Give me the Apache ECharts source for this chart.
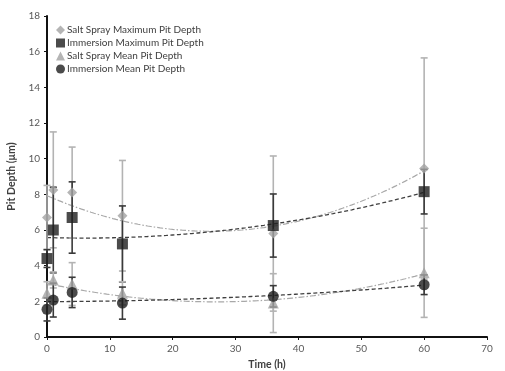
<!DOCTYPE html>
<html>
<head>
<meta charset="utf-8">
<script src="https://cdn.jsdelivr.net/npm/echarts@6/dist/echarts.min.js"></script>
<style>html,body{margin:0;padding:0;background:#fff}#c{width:505px;height:371px}</style>
</head>
<body>
<div id="c"></div>
<script>
var times = [0, 1, 4, 12, 36, 60];
var ssMax = [6.7, 8.25, 8.1, 6.8, 5.8, 9.45];
var ssMaxErr = [1.8, 3.25, 2.55, 3.1, 4.35, 6.2];
var imMax = [4.4, 6.0, 6.7, 5.22, 6.25, 8.15];
var imMaxErr = [0.5, 2.4, 2.0, 2.13, 1.77, 1.25];
var ssMean = [2.45, 3.2, 2.97, 2.45, 1.9, 3.6];
var ssMeanErr = [0.65, 0.45, 1.2, 0.65, 1.65, 2.5];
var imMean = [1.55, 2.07, 2.5, 1.9, 2.28, 2.93];
var imMeanErr = [0.65, 0.95, 0.85, 0.9, 0.6, 0.55];
var seriesNames = ['Salt Spray Maximum Pit Depth', 'Immersion Maximum Pit Depth', 'Salt Spray Mean Pit Depth', 'Immersion Mean Pit Depth'];
var yTicks = [0, 2, 4, 6, 8, 10, 12, 14, 16, 18];
var xTicks = [0, 10, 20, 30, 40, 50, 60, 70];

function polyFit2(xs, ys) {
  var n = xs.length, s = [0,0,0,0,0], t = [0,0,0];
  for (var i = 0; i < n; i++) {
    var x = xs[i], y = ys[i];
    for (var k = 0; k < 5; k++) s[k] += Math.pow(x, k);
    for (var k2 = 0; k2 < 3; k2++) t[k2] += Math.pow(x, k2) * y;
  }
  var A = [[s[0],s[1],s[2],t[0]],[s[1],s[2],s[3],t[1]],[s[2],s[3],s[4],t[2]]];
  for (var c = 0; c < 3; c++) {
    for (var r = c + 1; r < 3; r++) {
      var f = A[r][c] / A[c][c];
      for (var j = c; j < 4; j++) A[r][j] -= f * A[c][j];
    }
  }
  var b = [0,0,0];
  for (var r2 = 2; r2 >= 0; r2--) {
    var v = A[r2][3];
    for (var j2 = r2 + 1; j2 < 3; j2++) v -= A[r2][j2] * b[j2];
    b[r2] = v / A[r2][r2];
  }
  return b;
}
function trend(ys) {
  var b = polyFit2(times, ys), out = [];
  var x0 = times[0], x1 = times[times.length - 1];
  for (var i = 0; i <= 120; i++) {
    var x = x0 + (x1 - x0) * i / 120;
    out.push([x, b[0] + b[1] * x + b[2] * x * x]);
  }
  return out;
}
function errData(vals, errs) {
  return times.map(function (t, i) { return [t, vals[i] - errs[i], vals[i] + errs[i]]; });
}
function pts(vals) { return times.map(function (t, i) { return [t, vals[i]]; }); }

function errSeries(vals, errs, color, z) {
  return {
    type: 'custom', silent: true, z: z,
    data: errData(vals, errs),
    encode: { x: 0, y: [1, 2] },
    renderItem: function (params, api) {
      var x = api.value(0);
      var lo = api.coord([x, api.value(1)]);
      var hi = api.coord([x, api.value(2)]);
      var w = 3.5;
      var st = { stroke: color, lineWidth: 1.6 };
      return {
        type: 'group',
        children: [
          { type: 'line', shape: { x1: lo[0], y1: lo[1], x2: hi[0], y2: hi[1] }, style: st },
          { type: 'line', shape: { x1: lo[0] - w, y1: lo[1], x2: lo[0] + w, y2: lo[1] }, style: st },
          { type: 'line', shape: { x1: hi[0] - w, y1: hi[1], x2: hi[0] + w, y2: hi[1] }, style: st }
        ]
      };
    }
  };
}

var grayM = '#a3a3a3', darkM = '#1e1e1e';
var grayE = '#b3b3b3', darkE = '#3a3a3a';
var chart = echarts.init(document.getElementById('c'), null, { renderer: 'canvas' });
var font = 'Lato, "Open Sans", sans-serif';
chart.setOption({
  animation: false,
  textStyle: { fontFamily: font },
  grid: { left: 47, right: 18, top: 16, bottom: 34, containLabel: false, outerBoundsMode: 'none' },
  legend: {
    data: [
      { name: seriesNames[0], icon: 'diamond' },
      { name: seriesNames[1], icon: 'rect' },
      { name: seriesNames[2], icon: 'triangle' },
      { name: seriesNames[3], icon: 'circle' }
    ],
    orient: 'vertical', left: 51, top: 20, itemGap: 3, itemWidth: 9, itemHeight: 9,
    textStyle: { fontSize: 10, color: '#404040', fontFamily: font, padding: [0, 0, 0, -3] },
    selectedMode: false
  },
  xAxis: {
    type: 'value', min: xTicks[0], max: xTicks[xTicks.length - 1], interval: 10,
    name: 'Time (h)', nameLocation: 'middle', nameGap: 20,
    nameTextStyle: { fontSize: 10.5, fontWeight: 'bold', color: '#404040', fontFamily: font },
    axisLine: { lineStyle: { color: '#111', width: 2 } },
    axisTick: { length: 3, lineStyle: { color: '#111', width: 1 } },
    axisLabel: { fontSize: 10, color: '#595959', margin: 7, fontFamily: font },
    splitLine: { show: false }
  },
  yAxis: {
    type: 'value', min: yTicks[0], max: yTicks[yTicks.length - 1], interval: 2,
    name: 'Pit Depth (\u03bcm)', nameLocation: 'middle', nameGap: 19,
    nameTextStyle: { fontSize: 10.5, fontWeight: 'bold', color: '#404040', fontFamily: font },
    axisLine: { show: true, lineStyle: { color: '#111', width: 2 } },
    axisTick: { show: true, length: 3, lineStyle: { color: '#111', width: 1 } },
    axisLabel: { fontSize: 10, color: '#595959', margin: 7, fontFamily: font },
    splitLine: { show: false }
  },
  series: [
    { type: 'line', data: trend(ssMax), showSymbol: false, silent: true, z: 1,
      lineStyle: { color: '#a8a8a8', width: 1.2, type: [6, 2, 1.5, 2] } },
    { type: 'line', data: trend(imMax), showSymbol: false, silent: true, z: 1,
      lineStyle: { color: '#404040', width: 1.3, type: [4, 2.5] } },
    { type: 'line', data: trend(ssMean), showSymbol: false, silent: true, z: 1,
      lineStyle: { color: '#a8a8a8', width: 1.2, type: [6, 2, 1.5, 2] } },
    { type: 'line', data: trend(imMean), showSymbol: false, silent: true, z: 1,
      lineStyle: { color: '#404040', width: 1.3, type: [4, 2.5] } },
    errSeries(ssMax, ssMaxErr, grayE, 2),
    errSeries(imMax, imMaxErr, darkE, 2),
    errSeries(ssMean, ssMeanErr, grayE, 2),
    errSeries(imMean, imMeanErr, darkE, 2),
    { name: seriesNames[0], type: 'scatter', data: pts(ssMax), symbol: 'diamond', symbolSize: 10, z: 3,
      itemStyle: { color: grayM } },
    { name: seriesNames[1], type: 'scatter', data: pts(imMax), symbol: 'rect', symbolSize: 11, z: 3,
      itemStyle: { color: darkM } },
    { name: seriesNames[2], type: 'scatter', data: pts(ssMean), symbol: 'triangle', symbolSize: 11, z: 3,
      itemStyle: { color: grayM } },
    { name: seriesNames[3], type: 'scatter', data: pts(imMean), symbol: 'circle', symbolSize: 11, z: 3,
      itemStyle: { color: darkM } }
  ]
});
</script>
</body>
</html>
